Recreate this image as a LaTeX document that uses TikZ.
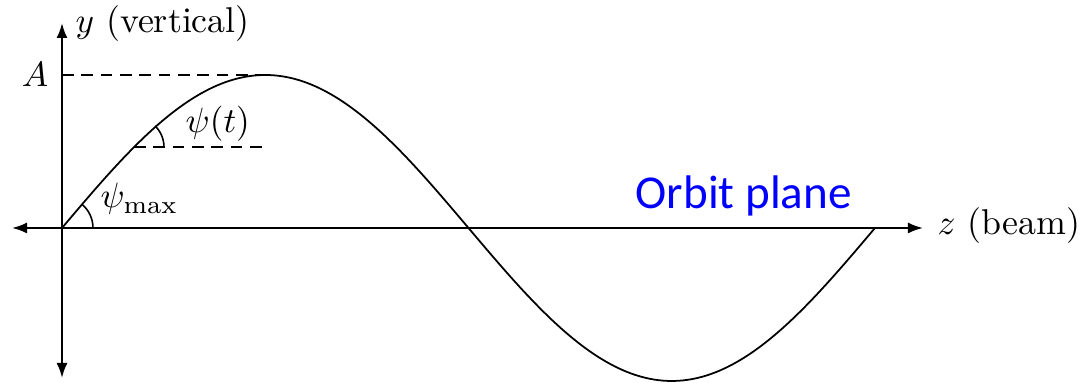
\documentclass[tikz,border=0pt]{standalone}
\usepackage{amsmath}
\usepackage{fontspec}
\newfontfamily\orbitfont{Carlito}
\usepackage{tikz}
\usetikzlibrary{arrows.meta}

\begin{document}
\begin{tikzpicture}[
				x=0.01cm, y=0.01cm,
				every node/.style={font=\fontsize{10.2}{12.5}\selectfont, inner sep=0pt},
				axis/.style={{Latex[length=1.5mm,width=1.1mm]}-{Latex[length=1.5mm,width=1.1mm]}, line width=0.6pt},
				guide/.style={dash pattern=on 3.3pt off 2.2pt, line width=0.45pt},
				wave/.style={line width=0.5pt},
				anglemark/.style={line width=0.45pt}
			]
		\useasboundingbox (-62,-155) rectangle (1019,228);

		% Axes
		\coordinate (ytop) at (0,205);
		\coordinate (ybot) at (0,-150);
		\coordinate (zleft) at (-50,0);
		\coordinate (zright) at (861,0);
		\coordinate (O) at (0,0);
		\draw[axis] (ybot) -- (ytop);
		\draw[axis] (zleft) -- (zright);

		% Orbit (one period)
		\draw[wave] plot[domain=0:360, samples=200] ({\x*2.2583}, {153*sin(\x)});

		% Reference points on the orbit
		\coordinate (peak) at (203.25,153);
		\coordinate (yA) at (0,153);
		\coordinate (pt) at (72,80.8);
		\coordinate (ptend) at (201,80.8);
		\coordinate (maxend) at (130,0);

		% Dashed guides
		\draw[guide] (yA) -- (peak);
		\draw[guide] (pt) -- (ptend);
		\draw[guide] (O) -- (maxend);

		% Angle arcs
		\draw[anglemark] ([shift={(31,0)}]O) arc[start angle=0, end angle=49.8, radius=31];
		\draw[anglemark] ([shift={(30,0)}]pt) arc[start angle=0, end angle=45.1, radius=30];

		% Labels
		\node[anchor=base west] (ylabel) at (13,195) {$y$ (vertical)};
		\node[anchor=base west] (zlabel) at (875,-7) {$z$ (beam)};
		\node[anchor=base east] (Alabel) at (-13,141) {$A$};
		\node[anchor=base west] (psit) at (123,95) {$\psi(t)$};
		\node[anchor=base west] (psimax) at (38,20) {$\psi_{\max}$};
		\node[anchor=base west, text=blue, font=\orbitfont\fontsize{13.4}{16}\selectfont] (orbit) at (573,19) {Orbit plane};
	\end{tikzpicture}
\end{document}
